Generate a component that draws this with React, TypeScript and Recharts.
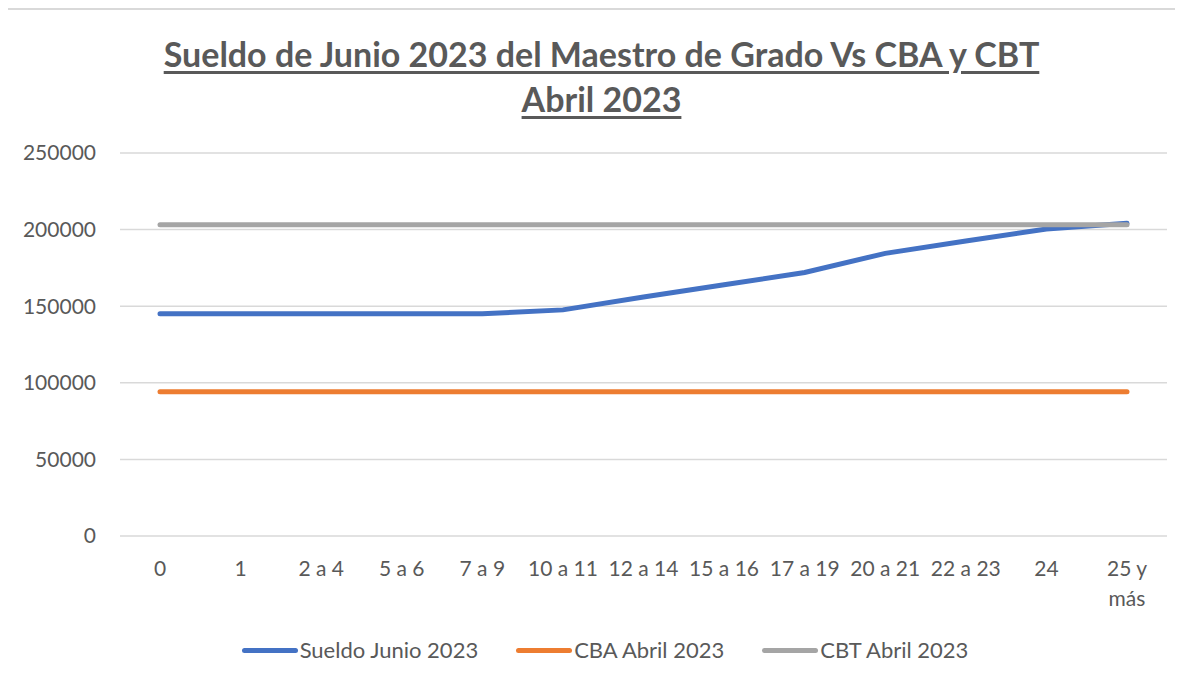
import React from 'react';
import {
  LineChart,
  Line,
  XAxis,
  YAxis,
  CartesianGrid,
} from 'recharts';

const categories = ['0', '1', '2 a 4', '5 a 6', '7 a 9', '10 a 11', '12 a 14', '15 a 16', '17 a 19', '20 a 21', '22 a 23', '24', '25 y más'];
const sueldoJunio = [145000, 145000, 145000, 145000, 145000, 147600, 156000, 164000, 172000, 184500, 192500, 200400, 204100];
const cbaAbril = [94100, 94100, 94100, 94100, 94100, 94100, 94100, 94100, 94100, 94100, 94100, 94100, 94100];
const cbtAbril = [203200, 203200, 203200, 203200, 203200, 203200, 203200, 203200, 203200, 203200, 203200, 203200, 203200];
const yTicks = [0, 50000, 100000, 150000, 200000, 250000];

const data = categories.map((cat, i) => ({
  cat,
  sueldo: sueldoJunio[i],
  cba: cbaAbril[i],
  cbt: cbtAbril[i],
}));

const FONT = 'Lato, "Open Sans", sans-serif';
const TEXT = '#595959';

const XTick = (props: any) => {
  const { x, y, payload } = props;
  const label: string = payload.value;
  const k = label.indexOf(' y ');
  const lines = k >= 0 ? [label.slice(0, k + 2), label.slice(k + 3)] : [label];
  return (
    <text x={x} y={y} textAnchor="middle" fill={TEXT} fontSize={21} fontFamily={FONT}>
      {lines.map((l, i) => (
        <tspan key={i} x={x} dy={i === 0 ? 32 : 30}>{l}</tspan>
      ))}
    </text>
  );
};

const legendItems = [
  { label: 'Sueldo Junio 2023', color: '#4472C4' },
  { label: 'CBA Abril 2023', color: '#ED7D31' },
  { label: 'CBT Abril 2023', color: '#A5A5A5' },
];

export default function App() {
  return (
    <div style={{ position: 'relative', width: 1183, height: 682, margin: -8, overflow: 'hidden', background: '#fff' }}>
      <div style={{ position: 'absolute', left: 6, top: 8, width: 1300, height: 800, border: '2px solid #d9d9d9' }} />
      <div
        style={{
          position: 'absolute',
          left: 0,
          top: 31,
          width: 1203,
          textAlign: 'center',
          fontFamily: FONT,
          fontWeight: 700,
          fontSize: 34,
          lineHeight: '45px',
          color: TEXT,
          textDecoration: 'underline',
          textUnderlineOffset: 4,
        }}
      >
        Sueldo de Junio 2023 del Maestro de Grado Vs CBA y CBT
        <br />
        Abril 2023
      </div>
      <div style={{ position: 'absolute', left: 0, top: 0 }}>
        <LineChart width={1183} height={682} data={data} margin={{ top: 153, right: 16, bottom: 66, left: 0 }}>
          <CartesianGrid vertical={false} stroke="#d9d9d9" strokeWidth={1.5} />
          <XAxis
            dataKey="cat"
            interval={0}
            axisLine={false}
            tickLine={false}
            tick={<XTick />}
            padding={{ left: 40, right: 40 }}
            height={80}
          />
          <YAxis
            domain={[0, 250000]}
            ticks={yTicks}
            axisLine={false}
            tickLine={false}
            width={120}
            tick={{ fill: TEXT, fontSize: 21, fontFamily: FONT, dx: -16 }}
          />
          <Line dataKey="sueldo" name="Sueldo Junio 2023" stroke="#4472C4" strokeWidth={5} strokeLinecap="round" dot={false} isAnimationActive={false} />
          <Line dataKey="cba" name="CBA Abril 2023" stroke="#ED7D31" strokeWidth={5} strokeLinecap="round" dot={false} isAnimationActive={false} />
          <Line dataKey="cbt" name="CBT Abril 2023" stroke="#A5A5A5" strokeWidth={5} strokeLinecap="round" dot={false} isAnimationActive={false} />
        </LineChart>
      </div>
      <div
        style={{
          position: 'absolute',
          left: 0,
          top: 635,
          width: 1210,
          display: 'flex',
          justifyContent: 'center',
          gap: 38,
          fontFamily: FONT,
          fontSize: 22,
          lineHeight: '30px',
          color: TEXT,
        }}
      >
        {legendItems.map((it) => (
          <div key={it.label} style={{ display: 'flex', alignItems: 'center' }}>
            <span style={{ display: 'inline-block', width: 56, height: 5, borderRadius: 3, background: it.color, marginRight: 2 }} />
            <span>{it.label}</span>
          </div>
        ))}
      </div>
    </div>
  );
}
